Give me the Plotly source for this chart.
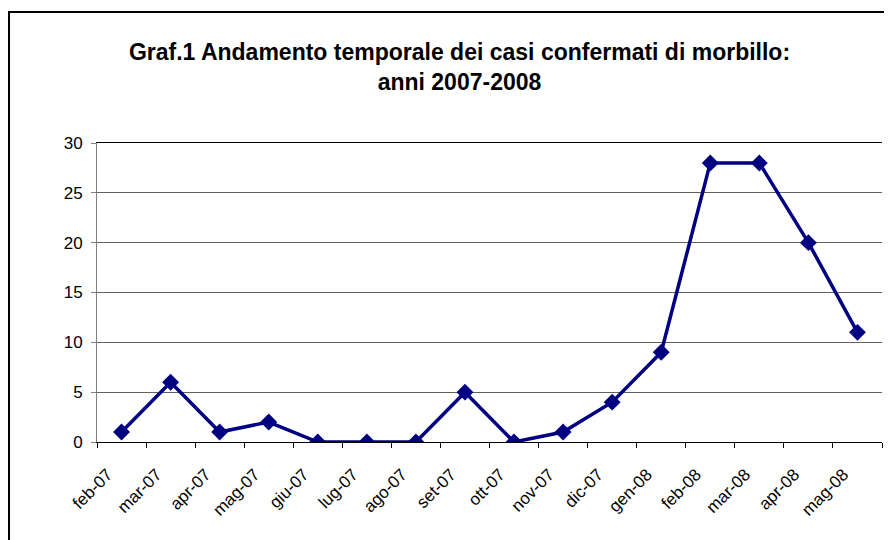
import plotly.graph_objects as go

months = ["feb-07", "mar-07", "apr-07", "mag-07", "giu-07", "lug-07", "ago-07", "set-07",
          "ott-07", "nov-07", "dic-07", "gen-08", "feb-08", "mar-08", "apr-08", "mag-08"]
cases = [1, 6, 1, 2, 0, 0, 0, 5, 0, 1, 4, 9, 28, 28, 20, 11]
title_text = "Graf.1 Andamento temporale dei casi confermati di morbillo:<br>anni 2007-2008"

# page has an 8px body margin; target plot area in page pixels: x 97..882, y 143..442
OFF = 8
W, H = 892, 540
L = 97 - OFF
T = 143 - OFF
R = W - (882 - OFF)
B = H - (442 - OFF)
pw, ph = W - L - R, H - T - B

fig = go.Figure()
fig.add_trace(go.Scatter(
    x=months, y=cases, mode="lines+markers",
    line=dict(color="#000080", width=3.5),
    marker=dict(symbol="diamond", size=13, color="#000080"),
    showlegend=False,
))

def px_x(p):
    return (p - OFF - L) / pw

def px_y(p):
    return (H - B - (p - OFF)) / ph

fig.update_layout(
    width=W, height=H,
    margin=dict(l=L, r=R, t=T, b=B),
    paper_bgcolor="white", plot_bgcolor="white",
    font=dict(family="Liberation Sans, Arial, sans-serif", size=16, color="black"),
    title=dict(text=title_text, x=(459.5 - OFF) / W, xanchor="center", y=1 - 52 / H, yanchor="top",
               font=dict(size=23, family="Liberation Sans, Arial, sans-serif", color="black",
                         weight="bold")),
    shapes=[dict(type="rect", xref="paper", yref="paper",
                 x0=px_x(9), x1=px_x(1000), y0=px_y(700), y1=px_y(12),
                 line=dict(color="black", width=2), fillcolor="rgba(0,0,0,0)", layer="below")],
)

fig.update_xaxes(
    type="category", range=[-0.5, len(months) - 0.5], tickangle=-45, tickson="boundaries",
    ticks="outside", ticklen=5, tickcolor="black",
    showline=True, linecolor="black", linewidth=1, mirror=True,
    showgrid=False, tickfont=dict(size=17),
    ticklabelshift=-14, ticklabelstandoff=15,
)
fig.update_yaxes(
    range=[0, 30], dtick=5, tickmode="linear",
    ticks="outside", ticklen=5, tickcolor="#808080",
    showline=True, linecolor="#808080", linewidth=1,
    showgrid=True, gridcolor="#606060", gridwidth=1,
    zeroline=False, tickfont=dict(size=17), ticklabelstandoff=5,
)

fig.write_html("out.html")
